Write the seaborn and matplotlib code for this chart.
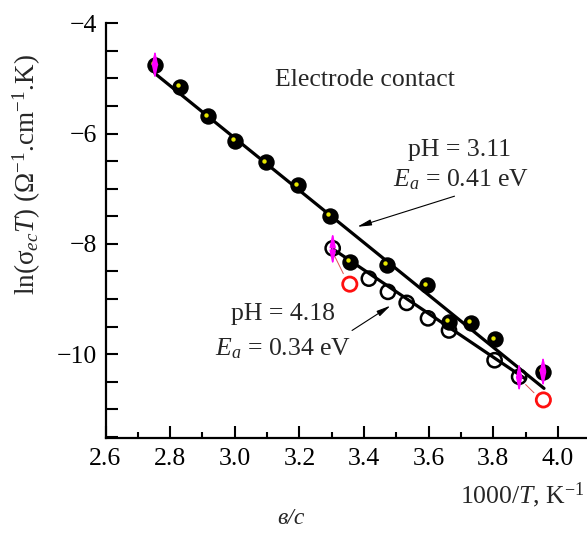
import numpy as np
import pandas as pd
import matplotlib
matplotlib.use("Agg")
import matplotlib.pyplot as plt
import matplotlib.transforms as mtransforms
from matplotlib.ticker import MultipleLocator
import seaborn as sns

# pH = 3.11 (filled markers)
x_filled = [2.753, 2.831, 2.916, 3.001, 3.097, 3.195, 3.296, 3.358, 3.472, 3.596, 3.663, 3.732, 3.804, 3.954]
y_filled = [-4.75, -5.15, -5.69, -6.13, -6.52, -6.94, -7.49, -8.32, -8.38, -8.75, -9.41, -9.43, -9.73, -10.32]

# pH = 4.18 (open markers)
x_open = [3.303, 3.415, 3.474, 3.532, 3.598, 3.663, 3.804, 3.880]
y_open = [-8.08, -8.63, -8.87, -9.07, -9.35, -9.57, -10.11, -10.41]

# red outliers
x_red = [3.356, 3.955]
y_red = [-8.73, -10.83]

# fitted lines (end points)
fit_hi_x = [2.753, 3.957]
fit_hi_y = [-4.91, -10.62]
fit_lo_x = [3.303, 3.900]
fit_lo_y = [-8.09, -10.45]

# magenta error arrows
err_x = [2.753, 3.303, 3.880, 3.954]
err_lo = [-5.02, -8.39, -10.69, -10.60]
err_hi = [-4.48, -7.79, -10.15, -10.03]

# thin red connectors (open point -> red point)
conn_x0 = [3.303, 3.900]
conn_y0 = [-8.15, -10.55]
conn_x1 = [3.336, 3.926]
conn_y1 = [-8.54, -10.70]

x_ticks = [2.6, 2.8, 3.0, 3.2, 3.4, 3.6, 3.8, 4.0]
y_ticks = [-4, -6, -8, -10]

sns.set_theme(style="ticks")
plt.rcParams['font.family'] = ['Liberation Serif', 'DejaVu Serif']
plt.rcParams['mathtext.fontset'] = 'custom'
plt.rcParams['mathtext.rm'] = 'Liberation Serif'
plt.rcParams['mathtext.it'] = 'Liberation Serif:italic'
plt.rcParams['mathtext.bf'] = 'Liberation Serif:bold'
plt.rcParams['axes.unicode_minus'] = True

W, H = 587, 533
fig = plt.figure(figsize=(W / 100, H / 100), dpi=100)
ax = fig.add_axes([105.5 / W, 1 - 438 / H, (W - 105.5) / W, (438 - 23.3) / H])

# fit lines
fits = pd.DataFrame({
    'x': fit_hi_x + fit_lo_x,
    'y': fit_hi_y + fit_lo_y,
    'series': ['hi'] * 2 + ['lo'] * 2,
})
sns.lineplot(data=fits, x='x', y='y', units='series', estimator=None, sort=False,
             color='black', lw=2.3, ax=ax, zorder=2)

# thin red connectors
for xa, ya, xb, yb in zip(conn_x0, conn_y0, conn_x1, conn_y1):
    ax.plot([xa, xb], [ya, yb], color='#e05050', lw=0.7, zorder=2)

# open circles
sns.scatterplot(x=x_open, y=y_open, marker='o', s=105, facecolor='none',
                edgecolor='black', linewidth=1.8, ax=ax, zorder=3)
sns.scatterplot(x=x_red, y=y_red, marker='o', s=105, facecolor='none',
                edgecolor='#ff1010', linewidth=2.0, ax=ax, zorder=3)

# filled "spheres" with a yellow highlight
sns.scatterplot(x=x_filled, y=y_filled, marker='o', s=140, color='black',
                edgecolor='black', linewidth=0, ax=ax, zorder=4)
shift = mtransforms.ScaledTranslation(-2 / 100, 1.5 / 100, fig.dpi_scale_trans)
hl = ax.scatter(x_filled, y_filled, s=10, color='#e8e800', linewidths=0, zorder=5)
hl.set_offset_transform(ax.transData + shift)

# magenta double arrows
for xe, lo, hi in zip(err_x, err_lo, err_hi):
    ax.annotate('', xy=(xe, hi), xytext=(xe, lo),
                arrowprops=dict(arrowstyle='<|-|>,head_length=0.7,head_width=0.15',
                                color='#ff00ff', lw=1.1, shrinkA=0, shrinkB=0),
                zorder=6)

# annotations
fs = 18.5
ax.text(3.402, -5.02, 'Electrode contact', ha='center', va='center', fontsize=fs)
ax.text(3.696, -6.29, 'pH = 3.11', ha='center', va='center', fontsize=fs)
ax.text(3.699, -6.83, '$E_a$ = 0.41 eV', ha='center', va='center', fontsize=fs)
ax.text(3.150, -9.28, 'pH = 4.18', ha='center', va='center', fontsize=fs)
ax.text(3.150, -9.90, '$E_a$ = 0.34 eV', ha='center', va='center', fontsize=fs)

arrow_kw = dict(arrowstyle='-|>,head_length=0.7,head_width=0.15', color='black',
                lw=0.8, shrinkA=0, shrinkB=0)
ax.annotate('', xy=(3.379, -7.69), xytext=(3.680, -7.135), arrowprops=arrow_kw)
ax.annotate('', xy=(3.482, -9.12), xytext=(3.363, -9.57), arrowprops=arrow_kw)

# axes styling
ax.set_xlim(2.6, 4.09)
ax.set_ylim(-11.52, -4)
ax.set_xticks(x_ticks)
ax.set_xticklabels([f'{t:.1f}' for t in x_ticks])
ax.set_yticks(y_ticks)
ax.set_yticklabels([f'\u2212{abs(t)}' for t in y_ticks])
ax.xaxis.set_minor_locator(MultipleLocator(0.1))
ax.yaxis.set_minor_locator(MultipleLocator(0.5))
ax.tick_params(axis='x', which='major', direction='in', length=9, width=1.5,
               labelsize=fs, pad=7, color='black', labelcolor='black')
ax.tick_params(axis='x', which='minor', direction='in', length=4, width=1.5, color='black')
ax.tick_params(axis='y', which='both', direction='in', length=8.5, width=1.5,
               labelsize=fs, pad=6, color='black', labelcolor='black')
for side in ['top', 'right']:
    ax.spines[side].set_visible(False)
for side in ['left', 'bottom']:
    ax.spines[side].set_linewidth(1.6)
    ax.spines[side].set_color('black')
ax.set_xlabel('')
ax.set_ylabel('')
ax.set_facecolor('white')

fig.text(585 / W, 1 - 495 / H, '1000/$T$, K$^{\u2212 1}$', ha='right', va='center', fontsize=fs)
fig.text(27 / W, 1 - 175 / H,
         'ln(σ$_{ec}$$T$) (Ω$^{\u22121}$.cm$^{\u22121}$.K)',
         rotation=90, ha='center', va='center', fontsize=19.5)
fig.text(291 / W, 1 - 519 / H, 'в/с', style='italic', ha='center', va='center', fontsize=17)

fig.savefig('out.png', dpi=100, facecolor='white')
